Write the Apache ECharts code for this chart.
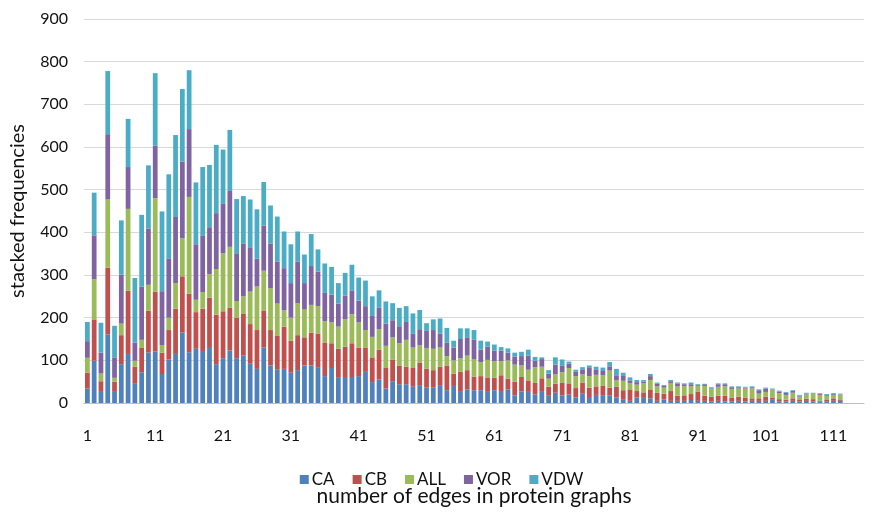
<!DOCTYPE html>
<html>
<head>
<meta charset="utf-8">
<script src="https://cdn.jsdelivr.net/npm/echarts@6/dist/echarts.min.js"></script>
<style>
html,body{margin:0;padding:0;background:#fff;}
#chart{width:883px;height:512px;}
</style>
</head>
<body>
<div id="chart"></div>
<script>
// categories: number of edges 1..115 (data present for 1..112)
var categories = [];
for (var i = 1; i <= 115; i++) categories.push(String(i));

var seriesNames = ["CA", "CB", "ALL", "VOR", "VDW"];

var CA = [34,99,26,161,26,91,115,45,72,118,121,68,102,115,165,119,127,122,129,91,
105,123,105,111,92,80,130,88,78,80,71,77,88,88,84,63,82,59,61,61,
63,73,49,55,34,51,44,44,38,42,36,36,42,30,40,28,32,30,30,28,
30,26,32,18,27,26,20,28,17,24,18,20,13,23,14,19,17,18,13,9,
5,13,12,11,5,8,5,5,5,7,5,5,3,5,4,3,5,4,5,5,
5,9,4,4,5,4,5,4,3,3,5,5];
var CB = [37,97,25,156,24,68,148,40,57,98,140,50,69,106,132,137,86,99,118,116,
110,100,95,99,93,91,87,83,79,99,75,82,66,77,79,79,58,68,71,79,
67,56,58,70,48,50,44,41,44,52,44,41,43,58,29,45,45,32,33,32,
29,39,25,32,34,27,27,30,21,21,29,26,22,25,22,20,23,18,25,21,
27,15,13,21,19,14,23,12,13,14,22,12,12,12,13,9,10,8,6,6,
10,4,5,4,6,3,5,5,2,4,6,2];
var ALL = [35,94,18,160,9,27,192,14,19,61,219,18,29,60,89,227,29,39,55,107,
136,143,39,40,76,102,93,98,76,38,54,75,65,65,64,50,49,52,64,68,
59,42,48,48,52,53,52,63,48,41,49,50,45,22,31,32,34,40,33,41,
39,33,43,40,28,25,37,27,19,22,25,36,28,19,27,27,25,40,15,22,
15,15,21,22,15,14,19,22,22,18,13,23,17,21,22,21,19,22,23,11,
11,18,14,11,13,8,10,12,14,10,8,12];
var VOR = [39,103,49,153,48,115,98,43,125,132,123,126,139,155,180,159,130,133,110,131,
117,131,112,123,104,65,106,105,98,99,81,97,62,91,81,66,65,54,56,56,
51,56,49,50,52,40,40,42,32,38,40,44,33,31,30,45,43,46,29,31,
25,25,18,19,21,33,15,18,12,23,15,10,10,12,19,13,10,10,12,13,
6,6,4,9,6,4,4,7,4,5,2,4,2,6,5,4,3,2,3,8,
8,1,4,5,4,2,2,1,3,2,2,1];
var VDW = [45,100,70,148,74,127,113,151,168,148,170,187,197,192,170,138,145,160,146,160,
126,143,127,112,112,116,102,89,106,86,91,71,67,75,52,69,65,48,53,60,
54,60,46,41,52,40,43,37,48,45,18,25,35,35,16,25,21,23,21,12,
14,8,10,9,10,14,9,4,8,17,15,5,5,5,6,6,8,10,15,6,
7,5,4,5,3,2,3,2,2,4,2,1,3,2,2,2,2,2,2,2,
2,2,2,2,2,2,2,2,1,2,2,2];

var colors = ["#4F81BD", "#C0504D", "#9BBB59", "#8064A2", "#4BACC6"];
var yTicks = [0, 100, 200, 300, 400, 500, 600, 700, 800, 900];

var FONT = "Lato, 'Open Sans', sans-serif";
var values = [CA, CB, ALL, VOR, VDW];

var chart = echarts.init(document.getElementById('chart'), null, {renderer: 'canvas'});
var series = seriesNames.map(function (name, k) {
  return {
    name: name,
    type: 'bar',
    stack: 'total',
    data: values[k],
    barCategoryGap: '30%',
    itemStyle: {color: colors[k]},
    emphasis: {disabled: true}
  };
});

chart.setOption({
  animation: false,
  color: colors,
  grid: {left: 82, right: 19, top: 19, bottom: 103, containLabel: false},
  legend: {
    data: seriesNames,
    bottom: 19,
    left: 'center',
    icon: 'rect',
    itemWidth: 9,
    itemHeight: 9,
    itemGap: 18,
    textStyle: {fontFamily: FONT, fontSize: 17, color: '#111', padding: [0, 0, 0, -2]}
  },
  xAxis: {
    type: 'category',
    data: categories,
    name: 'number of edges in protein graphs',
    nameLocation: 'middle',
    nameGap: 83,
    nameTextStyle: {fontFamily: FONT, fontSize: 21, color: '#111'},
    axisLine: {lineStyle: {color: '#bfbfbf', width: 1}},
    axisTick: {show: false},
    axisLabel: {interval: 9, margin: 25, fontFamily: FONT, fontSize: 16, color: '#111'}
  },
  yAxis: {
    type: 'value',
    min: yTicks[0],
    max: yTicks[yTicks.length - 1],
    interval: 100,
    name: 'stacked frequencies',
    nameLocation: 'middle',
    nameRotate: 90,
    nameGap: 56,
    nameTextStyle: {fontFamily: FONT, fontSize: 20, color: '#111'},
    axisLine: {show: false},
    axisTick: {show: false},
    splitLine: {lineStyle: {color: '#d9d9d9', width: 1}},
    axisLabel: {margin: 16, fontFamily: FONT, fontSize: 16, color: '#111'}
  },
  series: series
});
</script>
</body>
</html>
